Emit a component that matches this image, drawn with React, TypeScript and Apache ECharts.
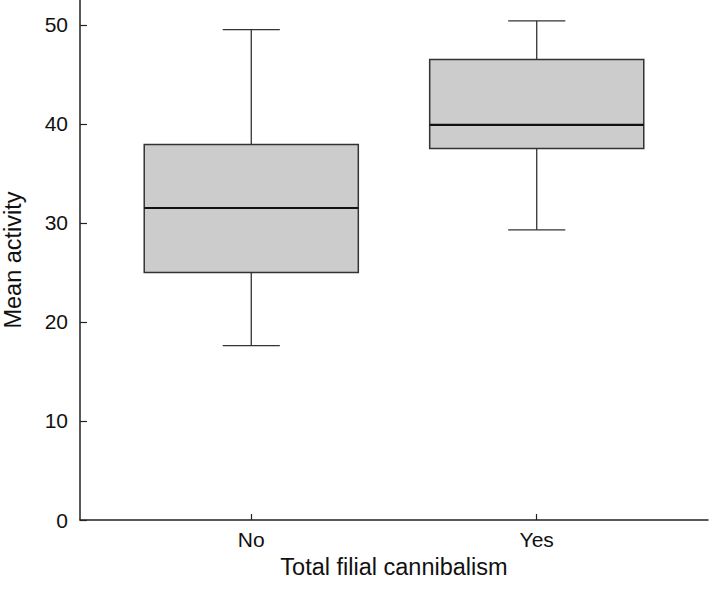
import React, { useEffect, useRef } from "react";
import * as echarts from "echarts";

const categories = ["No", "Yes"];
const lowerWhisker = [17.6, 29.3];
const q1 = [25.0, 37.5];
const median = [31.5, 39.9];
const q3 = [37.9, 46.5];
const upperWhisker = [49.5, 50.4];
const yTicks = [0, 10, 20, 30, 40, 50];

export default function App() {
  const ref = useRef<HTMLDivElement>(null);
  useEffect(() => {
    if (!ref.current) return;
    const chart = echarts.init(ref.current, null, { renderer: "svg" });
    const data = categories.map((_, i) => [
      i + 1,
      lowerWhisker[i],
      q1[i],
      median[i],
      q3[i],
      upperWhisker[i],
    ]);
    const font = "Liberation Sans, Arial, sans-serif";
    chart.setOption({
      animation: false,
      backgroundColor: "#ffffff",
      grid: {
        left: 80,
        right: 1,
        top: 0,
        bottom: 72,
        containLabel: false,
        outerBoundsMode: "none",
      },
      xAxis: {
        type: "value",
        min: 0.4,
        max: 2.6,
        name: "Total filial cannibalism",
        nameLocation: "middle",
        nameGap: 35,
        nameTextStyle: { fontSize: 23.5, color: "#111", fontFamily: font },
        splitLine: { show: false },
        axisLine: { show: true, lineStyle: { color: "#222", width: 1.5 } },
        axisTick: {
          show: true,
          inside: true,
          length: 6,
          customValues: [1, 2],
          lineStyle: { color: "#222", width: 1.2 },
        },
        axisLabel: {
          customValues: [1, 2],
          formatter: (v: number) => categories[Math.round(v) - 1] ?? "",
          fontSize: 21,
          color: "#111",
          fontFamily: font,
          margin: 9,
        },
      },
      yAxis: {
        type: "value",
        min: 0,
        max: 52.5,
        name: "Mean activity",
        nameLocation: "middle",
        nameGap: 55,
        nameTextStyle: { fontSize: 23.5, color: "#111", fontFamily: font },
        splitLine: { show: false },
        axisLine: { show: true, lineStyle: { color: "#222", width: 1.5 } },
        axisTick: {
          show: true,
          inside: true,
          length: 7,
          customValues: yTicks,
          lineStyle: { color: "#222", width: 1.2 },
        },
        axisLabel: {
          customValues: yTicks,
          fontSize: 21,
          color: "#111",
          fontFamily: font,
          margin: 12,
        },
      },
      series: [
        {
          type: "custom",
          data,
          clip: false,
          renderItem: (params: any, api: any) => {
            const x = api.value(0);
            const lo = api.coord([x, api.value(1)]);
            const b1 = api.coord([x, api.value(2)]);
            const md = api.coord([x, api.value(3)]);
            const b3 = api.coord([x, api.value(4)]);
            const hi = api.coord([x, api.value(5)]);
            const halfBox = api.size([0.375, 0])[0];
            const halfCap = api.size([0.1, 0])[0];
            const cx = lo[0];
            const whisk = { stroke: "#333", lineWidth: 1.3 };
            return {
              type: "group",
              children: [
                { type: "line", shape: { x1: cx, y1: hi[1], x2: cx, y2: b3[1] }, style: whisk },
                { type: "line", shape: { x1: cx, y1: b1[1], x2: cx, y2: lo[1] }, style: whisk },
                { type: "line", shape: { x1: cx - halfCap, y1: hi[1], x2: cx + halfCap, y2: hi[1] }, style: whisk },
                { type: "line", shape: { x1: cx - halfCap, y1: lo[1], x2: cx + halfCap, y2: lo[1] }, style: whisk },
                {
                  type: "rect",
                  shape: { x: cx - halfBox, y: b3[1], width: halfBox * 2, height: b1[1] - b3[1] },
                  style: { fill: "#cccccc", stroke: "#333", lineWidth: 1.5 },
                },
                {
                  type: "line",
                  shape: { x1: cx - halfBox, y1: md[1], x2: cx + halfBox, y2: md[1] },
                  style: { stroke: "#111", lineWidth: 2.2 },
                },
              ],
            };
          },
        },
      ],
    });
    return () => chart.dispose();
  }, []);
  return (
    <div
      ref={ref}
      style={{ position: "absolute", left: 0, top: 0, width: 709, height: 592 }}
    />
  );
}
